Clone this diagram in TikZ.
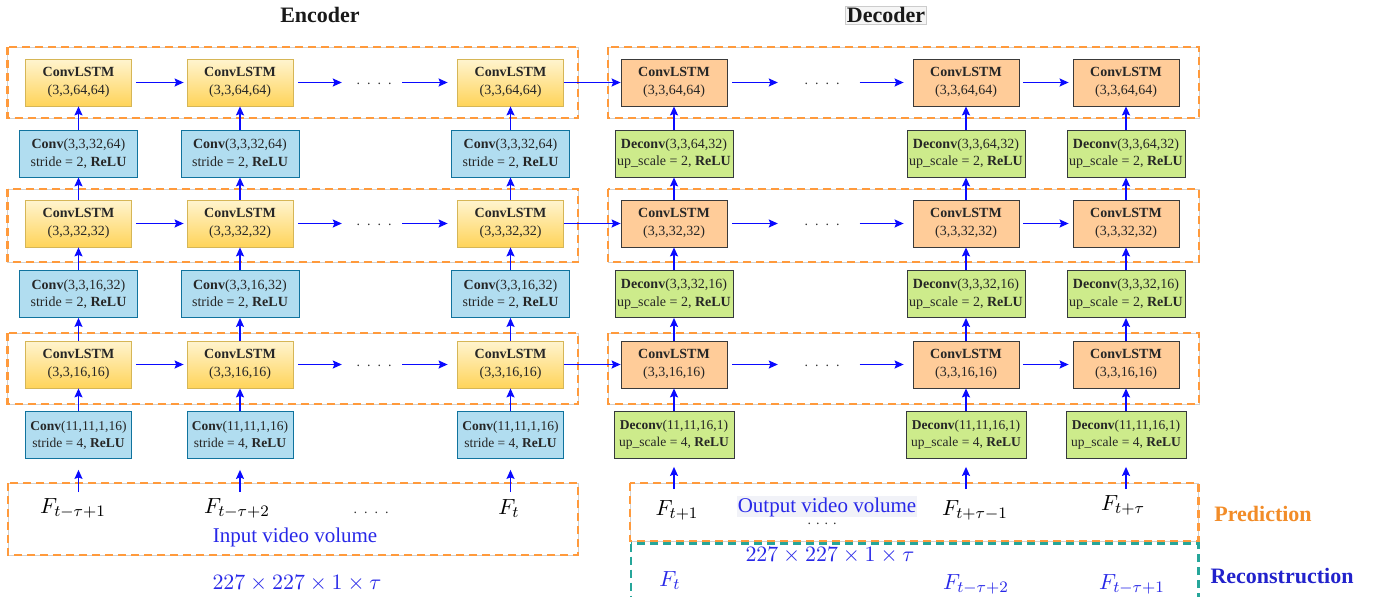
\documentclass[tikz,border=0pt]{standalone}
\usepackage[no-math]{fontspec}
\setmainfont{Liberation Serif}
\usetikzlibrary{arrows.meta}
\definecolor{encT}{HTML}{FFF4CF}
\definecolor{encB}{HTML}{FFD45A}
\definecolor{encD}{HTML}{D6B656}
\definecolor{decF}{HTML}{FFCC99}
\definecolor{decD}{HTML}{3A3A3A}
\definecolor{cnvF}{HTML}{B1DDF0}
\definecolor{cnvD}{HTML}{10739E}
\definecolor{dcvF}{HTML}{CDEB8B}
\definecolor{dcvD}{HTML}{36393D}
\definecolor{orng}{HTML}{FF9A3C}
\definecolor{tealc}{HTML}{26A69A}
\definecolor{arrb}{HTML}{0A0AFF}
\definecolor{lblb}{HTML}{2828E8}
\definecolor{recb}{HTML}{2222CC}
\definecolor{predo}{HTML}{F28C28}
\definecolor{ovbg}{HTML}{F1F2F8}
\begin{document}
\begin{tikzpicture}[x=1pt,y=-1pt,
  box/.style={rectangle, inner sep=0pt, minimum height=47pt, align=center,
    text=black!85, font=\fontsize{14}{17.5}\selectfont, line width=0.8pt},
  enc/.style={box, draw=encD, top color=encT, bottom color=encB, minimum width=106pt},
  dec/.style={box, draw=decD, fill=decF, minimum width=106pt},
  cnv/.style={box, draw=cnvD, fill=cnvF, minimum width=118pt},
  cnvs/.style={cnv, minimum width=106pt, font=\fontsize{13.5}{17}\selectfont},
  dcv/.style={box, draw=dcvD, fill=dcvF, minimum width=118pt},
  dcvs/.style={dcv, minimum width=120pt, font=\fontsize{13.5}{17}\selectfont},
  dotsn/.style={inner sep=0pt, font=\fontsize{14}{17}\selectfont, text=black!80},
  arr/.style={draw=arrb, line width=1.3pt, -{Stealth[length=9pt,width=8pt,inset=1.5pt]}},
  grpbg/.style={draw=black!18, line width=0.7pt},
  grp/.style={draw=orng, line width=2.6pt, dash pattern=on 8pt off 5pt},
  grpt/.style={draw=tealc, line width=2.2pt, dash pattern=on 8pt off 5pt},
  big/.style={font=\fontsize{11}{13}\selectfont, scale=2},
  ttl/.style={font=\fontsize{22}{26}\selectfont\bfseries, text=black!90}
]
\clip (0,0) rectangle (1385,597);
\fill[white] (0,0) rectangle (1385,597);

% group boxes
\foreach \ya/\yb in {47/118, 189/262, 333/404}{
  \draw[grpbg] (7.5,\ya) rectangle (578,\yb);
  \draw[grp] (7.5,\ya) rectangle (578,\yb);
  \draw[grpbg] (608,\ya) rectangle (1199,\yb);
  \draw[grp] (608,\ya) rectangle (1199,\yb);
}
\draw[grpbg] (8,483) rectangle (578,555);
\draw[grp] (8,483) rectangle (578,555);
\draw[grpbg] (630,483) rectangle (1198.5,541);
\draw[grp] (630,483) rectangle (1198.5,541);
\draw[grpt] (631,543.5) rectangle (1198.5,620);

% titles
\node[ttl] (tenc) at (320,15) {Encoder};
\node[ttl, draw=black!20, fill=black!4, inner sep=1.5pt] (tdec) at (886,15) {Decoder};

% ConvLSTM rows
\foreach \r/\y/\t in {1/82.5/{(3,3,64,64)}, 2/223.5/{(3,3,32,32)}, 3/364.5/{(3,3,16,16)}}{
  \node[enc] (e\r1) at (78.5,\y) {\textbf{ConvLSTM}\\\t};
  \node[enc] (e\r2) at (240,\y) {\textbf{ConvLSTM}\\\t};
  \node[enc] (e\r3) at (510.5,\y) {\textbf{ConvLSTM}\\\t};
  \node[dotsn] (ed\r) at (374,\y+1.5) {.\hspace{7pt}.\hspace{7pt}.\hspace{7pt}.};
  \node[dec] (d\r1) at (674,\y) {\textbf{ConvLSTM}\\\t};
  \node[dec] (d\r2) at (966,\y) {\textbf{ConvLSTM}\\\t};
  \node[dec] (d\r3) at (1126,\y) {\textbf{ConvLSTM}\\\t};
  \node[dotsn] (dd\r) at (822,\y+1.5) {.\hspace{7pt}.\hspace{7pt}.\hspace{7pt}.};
}

% encoder conv
\foreach \c/\x in {1/78.5, 2/240, 3/510.5}{
  \node[cnv] (c1\c) at (\x,153.5) {\textbf{Conv}(3,3,32,64)\\stride = 2, \textbf{ReLU}};
  \node[cnv] (c2\c) at (\x,294) {\textbf{Conv}(3,3,16,32)\\stride = 2, \textbf{ReLU}};
  \node[cnvs] (c3\c) at (\x,435) {\textbf{Conv}(11,11,1,16)\\stride = 4, \textbf{ReLU}};
  \coordinate (ein\c) at (\x,492);
}
% decoder deconv
\foreach \c/\x in {1/674, 2/966, 3/1126}{
  \node[dcv] (k1\c) at (\x,153.5) {\textbf{Deconv}(3,3,64,32)\\up\_scale = 2, \textbf{ReLU}};
  \node[dcv] (k2\c) at (\x,294) {\textbf{Deconv}(3,3,32,16)\\up\_scale = 2, \textbf{ReLU}};
  \node[dcvs] (k3\c) at (\x,435) {\textbf{Deconv}(11,11,16,1)\\up\_scale = 4, \textbf{ReLU}};
  \coordinate (din\c) at (\x,489);
}

% horizontal arrows
\foreach \r in {1,2,3}{
  \draw[arr, shorten <=4.5pt, shorten >=3pt] (e\r1.east) -- (e\r2.west);
  \draw[arr, shorten <=5pt, shorten >=14.5pt] (e\r2.east) -- (e\r2.east -| ed\r.west);
  \draw[arr, shorten <=10.5pt, shorten >=9.5pt] (e\r3.west -| ed\r.east) -- (e\r3.west);
  \draw[arr] (e\r3.east) -- (d\r1.west);
  \draw[arr, shorten <=5pt, shorten >=26.5pt] (d\r1.east) -- (d\r1.east -| dd\r.west);
  \draw[arr, shorten <=20pt, shorten >=9pt] (d\r2.west -| dd\r.east) -- (d\r2.west);
  \draw[arr, shorten <=4pt, shorten >=4pt] (d\r2.east) -- (d\r3.west);
}

% vertical arrows
\foreach \c in {1,2,3}{
  \draw[arr] (c1\c.north) -- (e1\c.south);
  \draw[arr] (e2\c.north) -- (c1\c.south);
  \draw[arr] (c2\c.north) -- (e2\c.south);
  \draw[arr] (e3\c.north) -- (c2\c.south);
  \draw[arr] (c3\c.north) -- (e3\c.south);
  \draw[arr, shorten >=11pt] (ein\c) -- (c3\c.south);
  \draw[arr] (k1\c.north) -- (d1\c.south);
  \draw[arr] (d2\c.north) -- (k1\c.south);
  \draw[arr] (k2\c.north) -- (d2\c.south);
  \draw[arr] (d3\c.north) -- (k2\c.south);
  \draw[arr] (k3\c.north) -- (d3\c.south);
  \draw[arr, shorten >=8pt] (din\c) -- (k3\c.south);
}

% input labels
\node[big, anchor=base] (f1) at (73,513) {$F_{t-\tau+1}$};
\node[big, anchor=base] (f2) at (237,513) {$F_{t-\tau+2}$};
\node[dotsn, anchor=base] (fdots) at (371,513) {.\hspace{7pt}.\hspace{7pt}.\hspace{7pt}.};
\node[big, anchor=base] (f3) at (509,514) {$F_t$};
\node[font=\fontsize{21}{25}\selectfont, text=lblb, anchor=base] (ivv) at (295,542) {Input video volume};
\node[big, text=lblb, anchor=base] (isz) at (297,589) {$227\times227\times1\times\tau$};

% output labels
\node[big, anchor=base] (o1) at (677,515) {$F_{t+1}$};
\node[font=\fontsize{21}{25}\selectfont, text=lblb, fill=ovbg, inner sep=1pt, anchor=base] (ovv) at (827,512) {Output video volume};
\node[dotsn, anchor=base] (odots) at (822,524) {.\hspace{5pt}.\hspace{5pt}.\hspace{5pt}.};
\node[big, anchor=base] (o2) at (975,515) {$F_{t+\tau-1}$};
\node[big, anchor=base] (o3) at (1123,510) {$F_{t+\tau}$};
\node[big, text=lblb, anchor=base] (osz) at (830,561) {$227\times227\times1\times\tau$};
\node[big, text=lblb, anchor=base] (r1) at (670,586) {$F_t$};
\node[big, text=lblb, anchor=base] (r2) at (976,589) {$F_{t-\tau+2}$};
\node[big, text=lblb, anchor=base] (r3) at (1132,589) {$F_{t-\tau+1}$};
\node[ttl, text=predo, anchor=base] (pred) at (1263,521) {Prediction};
\node[ttl, text=recb, anchor=base] (rec) at (1282,583) {Reconstruction};
\end{tikzpicture}
\end{document}
